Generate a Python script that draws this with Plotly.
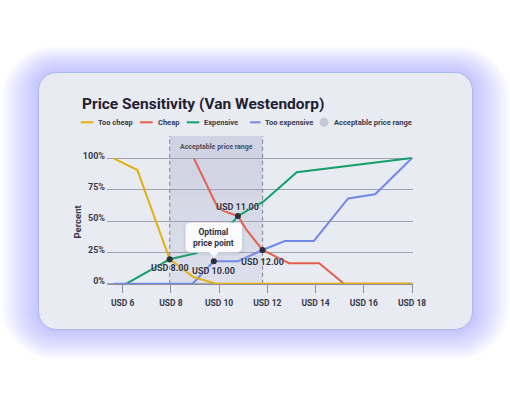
import plotly.graph_objects as go

# ---------------- data ----------------
price_ticks = [6, 8, 10, 12, 14, 16, 18]
price_tick_labels = ["USD 6", "USD 8", "USD 10", "USD 12", "USD 14", "USD 16", "USD 18"]
pct_ticks = [0, 25, 50, 75, 100]
pct_tick_labels = ["0%", "25%", "50%", "75%", "100%"]

too_cheap_x = [5.65, 6.61, 7.95, 8.92, 9.87, 18.0]
too_cheap_y = [100, 90.9, 19.6, 5.5, 0, 0]

cheap_x = [8.96, 9.9, 10.15, 10.78, 11.14, 11.8, 12.9, 14.15, 15.18, 18.0]
cheap_y = [100, 62.5, 58.5, 54.2, 43.0, 27.0, 16.5, 16.5, 0, 0]

expensive_x = [6.14, 7.95, 9.05, 10.58, 10.78, 11.83, 13.22, 18.0]
expensive_y = [0, 19.6, 24.5, 49.6, 54.2, 65.6, 89.2, 100.5]

too_expensive_x = [5.65, 8.9, 9.78, 10.79, 11.8, 12.72, 13.93, 15.35, 16.47, 18.0]
too_expensive_y = [0, 0, 18.0, 18.0, 27.0, 34.2, 34.2, 68.2, 71.5, 100.5]

point_x = [7.95, 9.78, 10.78, 11.8]
point_y = [19.6, 18.0, 54.2, 27.0]
point_labels = ["USD 8.00", "USD 10.00", "USD 11.00", "USD 12.00"]

series_names = ["Too cheap", "Cheap", "Expensive", "Too expensive"]
range_name = "Acceptable price range"
callout_text = "Optimal<br>price point"
title_text = "Price Sensitivity (Van Westendorp)"

# ---------------- layout geometry ----------------
W, H = 510, 400
ML, MR, MT, MB = 107, 97, 136, 112
PW = W - ML - MR
PH = H - MT - MB
XR = [5.35, 18.04]
YR = [-3.35, 118.1]

FONT = "Roboto"
TXT = "#363949"
colors = {"Too cheap": "#e0b10f", "Cheap": "#e3604f", "Expensive": "#13a06b", "Too expensive": "#7389e8"}


def fx(px):
    return (px - ML) / PW


def fy(py):
    return (H - MB - py) / PH


def dpx(x):
    return ML + (x - XR[0]) / (XR[1] - XR[0]) * PW


def dpy(y):
    return H - MB - (y - YR[0]) / (YR[1] - YR[0]) * PH


def P(px, py):
    return f"{fx(px):.5f},{fy(py):.5f}"


K = 0.5523


def rrect_path(x0, y0, x1, y1, r, pointer=None):
    k = K * r
    s = f"M{P(x0 + r, y0)} L{P(x1 - r, y0)} "
    s += f"C{P(x1 - r + k, y0)} {P(x1, y0 + r - k)} {P(x1, y0 + r)} "
    s += f"L{P(x1, y1 - r)} "
    s += f"C{P(x1, y1 - r + k)} {P(x1 - r + k, y1)} {P(x1 - r, y1)} "
    if pointer:
        cx, tip, hw = pointer
        s += f"L{P(cx + hw, y1)} L{P(cx, tip)} L{P(cx - hw, y1)} "
    s += f"L{P(x0 + r, y1)} "
    s += f"C{P(x0 + r - k, y1)} {P(x0, y1 - r + k)} {P(x0, y1 - r)} "
    s += f"L{P(x0, y0 + r)} "
    s += f"C{P(x0, y0 + r - k)} {P(x0 + r - k, y0)} {P(x0 + r, y0)} Z"
    return s


shapes = []
annotations = []

# glow behind card
cx0, cy0, cx1, cy1, cr = 38.5, 72.5, 472.5, 329.5, 18
N = 16
for i in range(N, 0, -1):
    e = i * 2.2
    shapes.append(dict(type="path", xref="paper", yref="paper", layer="below",
                       path=rrect_path(cx0 - e * 1.05, cy0 - e * 0.75, cx1 + e * 1.05, cy1 + e * 0.85, cr + e),
                       fillcolor="rgba(120,140,240,0.032)", line=dict(width=0)))
# card
shapes.append(dict(type="path", xref="paper", yref="paper", layer="below",
                   path=rrect_path(cx0, cy0, cx1, cy1, cr),
                   fillcolor="#e9ebf3", line=dict(color="rgba(165,176,232,0.85)", width=1)))

# acceptable price range band (vertical gradient)
band_x0, band_x1 = point_x[0], point_x[3]
top = YR[1]
nb = 12
for i in range(nb):
    ya = top * i / nb
    yb = top * (i + 1) / nb
    op = 0.17 + 0.17 * (i / (nb - 1))
    shapes.append(dict(type="rect", xref="x", yref="y", layer="below",
                       x0=band_x0, x1=band_x1, y0=ya, y1=yb,
                       fillcolor=f"rgba(158,163,195,{op:.3f})", line=dict(width=0)))
for bx in (band_x0, band_x1):
    shapes.append(dict(type="line", xref="x", yref="y", layer="between",
                       x0=bx, x1=bx, y0=0, y1=top,
                       line=dict(color="#8c8f9e", width=1.2, dash="4px,3px")))
annotations.append(dict(x=(band_x0 + band_x1) / 2, y=fy(146.7), xref="x", yref="paper",
                        text=range_name, showarrow=False, xanchor="center", yanchor="middle",
                        font=dict(family=FONT, size=7, color="#4b4e5e", weight=700)))

# callout box anchored to optimal price point
opx, opy = dpx(point_x[1]), dpy(point_y[1])
tip = opy - 4
bw, bh = 56.6, 30
bx0, bx1 = opx - bw / 2, opx + bw / 2
by1 = tip - 4.8
by0 = by1 - bh
for e, a in [(2.5, 0.05), (1.2, 0.07)]:
    shapes.append(dict(type="path", xref="paper", yref="paper", layer="above",
                       path=rrect_path(bx0 - e, by0 - e + 1, bx1 + e, by1 + e + 1, 6 + e),
                       fillcolor=f"rgba(90,100,150,{a})", line=dict(width=0)))
shapes.append(dict(type="path", xref="paper", yref="paper", layer="above",
                   path=rrect_path(bx0, by0, bx1, by1, 5, pointer=(opx, tip, 4.5)),
                   fillcolor="#fbfbfe", line=dict(width=0)))
annotations.append(dict(x=fx(opx), y=fy((by0 + by1) / 2), xref="paper", yref="paper",
                        text=callout_text, showarrow=False, xanchor="center", yanchor="middle",
                        font=dict(family=FONT, size=8.5, color="#2f3244", weight=700)))

# title
annotations.append(dict(x=fx(80), y=fy(104), xref="paper", yref="paper", text=title_text,
                        showarrow=False, xanchor="left", yanchor="middle",
                        font=dict(family=FONT, size=15.5, color="#1e2131", weight=700)))

# manual legend
leg_y = 122.3
leg_items = [(80.7, 93.3, 96.0), (140.0, 152.7, 155.7), (186.7, 199.3, 202.3), (250.0, 260.5, 262.7)]
for name, (lx0, lx1, tx) in zip(series_names, leg_items):
    shapes.append(dict(type="line", xref="paper", yref="paper", layer="above",
                       x0=fx(lx0), x1=fx(lx1), y0=fy(leg_y), y1=fy(leg_y),
                       line=dict(color=colors[name], width=2)))
    annotations.append(dict(x=fx(tx), y=fy(leg_y), xref="paper", yref="paper", text=name,
                            showarrow=False, xanchor="left", yanchor="middle",
                            font=dict(family=FONT, size=7.5, color=TXT, weight=700)))
shapes.append(dict(type="circle", xref="paper", yref="paper", layer="above",
                   x0=fx(324 - 4.5), x1=fx(324 + 4.5), y0=fy(leg_y + 4.5), y1=fy(leg_y - 4.5),
                   fillcolor="#c5c8d4", line=dict(width=0)))
annotations.append(dict(x=fx(331.7), y=fy(leg_y), xref="paper", yref="paper", text=range_name,
                        showarrow=False, xanchor="left", yanchor="middle",
                        font=dict(family=FONT, size=7.5, color=TXT, weight=700)))

# y-axis title
annotations.append(dict(x=fx(77), y=fy(221.5), xref="paper", yref="paper", text="Percent",
                        showarrow=False, textangle=-90, xanchor="center", yanchor="middle",
                        font=dict(family=FONT, size=9.5, color=TXT, weight=700)))

# point labels
label_shift = [-9, -10, 9, -12]
for x, y, lab, sh in zip(point_x, point_y, point_labels, label_shift):
    annotations.append(dict(x=x, y=y, xref="x", yref="y", text=lab, showarrow=False,
                            xanchor="center", yanchor="middle", yshift=sh,
                            font=dict(family=FONT, size=9, color="#303344", weight=700,
                                      shadow="0px 0px 2px #f3f4fa")))

# ---------------- traces ----------------
fig = go.Figure()
series = [("Cheap", cheap_x, cheap_y), ("Expensive", expensive_x, expensive_y),
          ("Too expensive", too_expensive_x, too_expensive_y), ("Too cheap", too_cheap_x, too_cheap_y)]
for name, xs, ys in series:
    fig.add_trace(go.Scatter(x=xs, y=ys, mode="lines", name=name,
                             line=dict(color=colors[name], width=2), showlegend=False,
                             hoverinfo="skip"))
fig.add_trace(go.Scatter(x=point_x, y=point_y, mode="markers", showlegend=False,
                         marker=dict(color="#2b2d3b", size=6), hoverinfo="skip"))

fig.update_layout(
    width=W, height=H,
    margin=dict(l=ML, r=MR, t=MT, b=MB, pad=0),
    paper_bgcolor="#ffffff", plot_bgcolor="rgba(0,0,0,0)",
    showlegend=False,
    shapes=shapes, annotations=annotations,
    xaxis=dict(range=XR, tickvals=price_ticks, ticktext=price_tick_labels,
               anchor="free", position=(0 - YR[0]) / (YR[1] - YR[0]),
               showline=True, linecolor="#8e919d", linewidth=1.2,
               ticks="outside", ticklen=8, tickcolor="#8e919d", tickwidth=1.2,
               showgrid=False, zeroline=False, ticklabelstandoff=3,
               tickfont=dict(family=FONT, size=8.5, color=TXT, weight=700)),
    yaxis=dict(range=YR, tickvals=pct_ticks, ticktext=pct_tick_labels,
               showline=False, zeroline=False, showgrid=True,
               gridcolor="#a0a2ad", gridwidth=1.2, ticks="", ticklabelstandoff=1,
               ticklabelshift=-3,
               tickfont=dict(family=FONT, size=9, color=TXT, weight=700)),
)

fig.write_html("out.html", config={"displayModeBar": False})
